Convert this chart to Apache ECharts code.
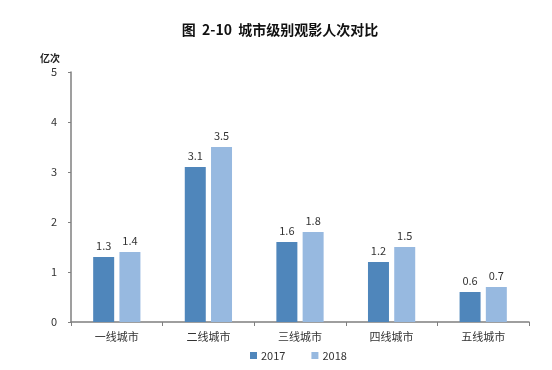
<!DOCTYPE html>
<html><head><meta charset="utf-8">
<script src="https://cdn.jsdelivr.net/npm/echarts@6/dist/echarts.min.js"></script>
<style>html,body{margin:0;padding:0;background:#fff}#c{width:552px;height:370px}</style>
</head><body><div id="c"></div>
<script>
var categories = ['一线城市','二线城市','三线城市','四线城市','五线城市'];
var s2017 = [1.3, 3.1, 1.6, 1.2, 0.6];
var s2018 = [1.4, 3.5, 1.8, 1.5, 0.7];
var yTicks = [0, 5, 1];
var font = '"Noto Sans CJK SC", "Noto Sans", sans-serif';
var chart = echarts.init(document.getElementById('c'));
var lbl = {show:true, position:'top', distance:6, color:'#333', fontSize:11, fontFamily:font};
chart.setOption({
  animation:false,
  title:{text:'图  2-10  城市级别观影人次对比', left:275, top:18, textAlign:'center',
    textStyle:{fontSize:14, fontWeight:'bold', color:'#111', fontFamily:font}},
  legend:{top:345, left:245, itemWidth:7, itemHeight:7, itemGap:26, icon:'rect',
    textStyle:{fontSize:11, color:'#333', fontFamily:font, padding:[0,0,0,-1]}, data:['2017','2018']},
  grid:{left:71, right:23, top:72, bottom:48},
  xAxis:{type:'category', data:categories,
    axisLine:{lineStyle:{color:'#7f7f7f', width:1.5}},
    axisTick:{show:true, length:4, lineStyle:{color:'#7f7f7f'}},
    axisLabel:{color:'#333', fontSize:11, margin:9, fontFamily:font}},
  yAxis:{type:'value', min:yTicks[0], max:yTicks[1], interval:yTicks[2],
    name:'亿次', nameLocation:'end', nameGap:9,
    nameTextStyle:{fontSize:10, fontWeight:'bold', color:'#222', align:'right', padding:[0,11,0,0], fontFamily:font},
    axisLine:{show:true, lineStyle:{color:'#7f7f7f', width:1.5}},
    axisTick:{show:true, length:3, lineStyle:{color:'#7f7f7f'}},
    splitLine:{show:false},
    axisLabel:{color:'#333', fontSize:11, margin:14, fontFamily:font}},
  series:[
    {name:'2017', type:'bar', data:s2017, barWidth:21, barGap:'25%', itemStyle:{color:'#4f86bb'}, label:lbl},
    {name:'2018', type:'bar', data:s2018, barWidth:21, itemStyle:{color:'#97b9e0'}, label:lbl}
  ]
});
</script></body></html>
